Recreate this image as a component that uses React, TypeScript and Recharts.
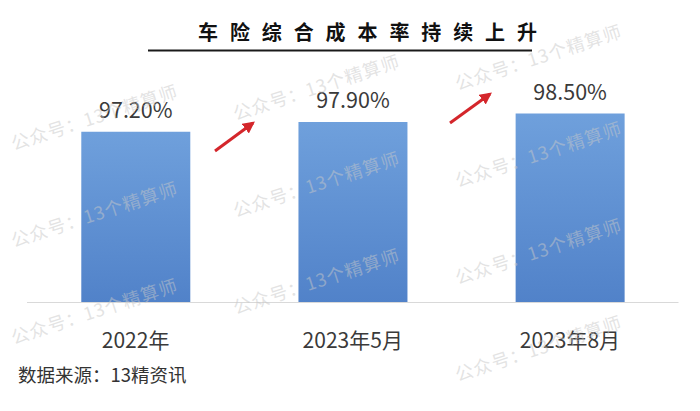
import React from 'react';
import { BarChart, Bar, XAxis, YAxis, LabelList } from 'recharts';

const categories = ['2022年', '2023年5月', '2023年8月'];
const values = [97.2, 97.9, 98.5];
const titleText = '车险综合成本率持续上升';
const sourceText = '数据来源：13精资讯';
const watermarkText = '公众号：13个精算师';

const data = categories.map((c, i) => ({ name: c, value: values[i] }));

const FONT = "'Noto Sans CJK SC', 'Noto Sans', sans-serif";

const watermarkPositions: { x: number; y: number }[] = [];
for (let c = -1; c <= 3; c++) {
  const cx = 95 + 222 * c;
  const base = 22 + 67 * c;
  for (let r = -3; r <= 5; r++) {
    const cy = base + 97 * r;
    if (cx - 86 >= 0 && cx + 86 <= 700 && cy - 32 >= 0 && cy + 32 <= 411) {
      watermarkPositions.push({ x: cx, y: cy });
    }
  }
}

const arrows = [
  { x1: 215, y1: 151, x2: 253, y2: 123 },
  { x1: 450, y1: 123, x2: 490, y2: 94 },
];

export default function App() {
  return (
    <div style={{ position: 'absolute', left: 0, top: 0, width: 700, height: 411, background: '#fff', fontFamily: FONT }}>
      <BarChart
        width={700}
        height={411}
        data={data}
        margin={{ top: 92.5, right: 21.5, left: 27, bottom: 68.5 }}
        barCategoryGap="25%"
      >
        <defs>
          <linearGradient id="barGrad" x1="0" y1="0" x2="0" y2="1">
            <stop offset="0%" stopColor="#6fa0dc" />
            <stop offset="100%" stopColor="#5182c9" />
          </linearGradient>
        </defs>
        <XAxis
          dataKey="name"
          axisLine={{ stroke: '#d9d9d9', strokeWidth: 1 }}
          tickLine={false}
          tick={{ fontSize: 21, fill: '#3a3a3a', fontFamily: FONT }}
          tickMargin={25}
          height={40}
          interval={0}
        />
        <YAxis hide domain={[85, 100]} />
        <Bar dataKey="value" fill="url(#barGrad)" isAnimationActive={false}>
          <LabelList
            dataKey="value"
            position="top"
            offset={14}
            formatter={(v: any) => `${Number(v).toFixed(2)}%`}
            style={{ fontSize: 21.5, fill: '#3a3a3a', fontFamily: FONT }}
          />
        </Bar>
      </BarChart>
      <svg
        width={700}
        height={411}
        style={{ position: 'absolute', left: 0, top: 0, pointerEvents: 'none' }}
      >
        <defs>
          <marker id="arrowHead" markerWidth="4" markerHeight="4" refX="3.2" refY="2" orient="auto" markerUnits="strokeWidth">
            <path d="M0,0 L4,2 L0,4 Z" fill="#d4262b" />
          </marker>
        </defs>
        <text x={198} y={40} fontSize={20} fontWeight="bold" fill="#111" fontFamily={FONT} letterSpacing={11.9}>
          {titleText}
        </text>
        <line x1={148} y1={50.5} x2={532} y2={50.5} stroke="#1a1a1a" strokeWidth={2} />
        <text x={18} y={382} fontSize={18.5} fill="#333" fontFamily={FONT}>
          {sourceText}
        </text>
        {arrows.map((a, i) => (
          <line key={i} x1={a.x1} y1={a.y1} x2={a.x2} y2={a.y2} stroke="#d4262b" strokeWidth={3} markerEnd="url(#arrowHead)" />
        ))}
        {watermarkPositions.map((p, i) => (
          <text
            key={i}
            x={p.x}
            y={p.y}
            fontSize={18}
            fill="#c8c8c8"
            fillOpacity={0.5}
            fontFamily={FONT}
            textAnchor="middle"
            dominantBaseline="middle"
            letterSpacing={1}
            transform={`rotate(-18 ${p.x} ${p.y})`}
          >
            {watermarkText}
          </text>
        ))}
      </svg>
    </div>
  );
}
